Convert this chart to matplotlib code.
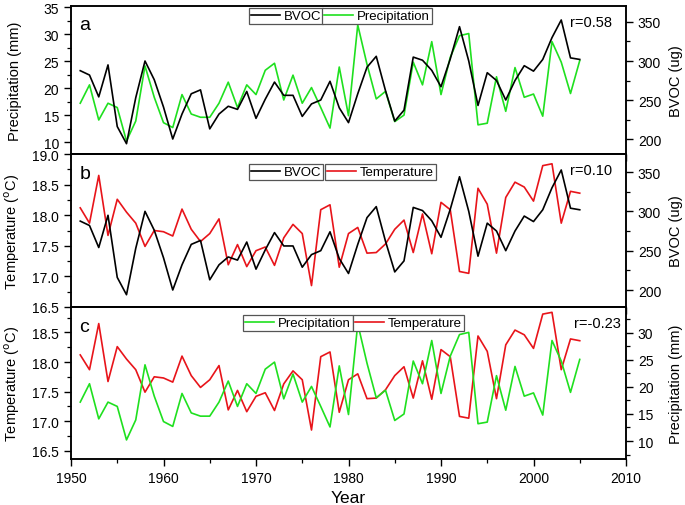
import matplotlib
matplotlib.use('Agg')
import matplotlib.pyplot as plt
from matplotlib.ticker import MultipleLocator

plt.rcParams['font.family'] = ['Liberation Sans', 'DejaVu Sans']

# Data (1951-2005)
years = list(range(1951, 2006))

bvoc = [287.6, 282, 254, 295, 216, 194, 253, 300, 276, 241,
        200, 232, 258, 263, 213, 232, 242, 238, 261, 226.5,
        251, 273, 256, 256, 229, 245, 250, 274, 240, 221,
        258, 292, 306, 262, 223, 237, 305, 301, 288, 267,
        302.6, 344, 300, 243, 285, 275, 250, 275, 294, 287,
        302, 330, 352.6, 304, 302]

precipitation = [17.2, 20.6, 14.1, 17.2, 16.4, 10.2, 13.9, 24.1, 18.3, 13.6,
                 12.7, 18.8, 15.2, 14.6, 14.6, 17.2, 21.1, 16.4, 20.6, 18.8,
                 23.3, 24.6, 17.8, 22.4, 17.2, 20.1, 16.4, 12.6, 23.9, 14.9,
                 31.7, 24.4, 18.0, 19.4, 13.8, 15.0, 24.8, 20.6, 28.6, 18.8,
                 25.7, 29.7, 30.1, 13.2, 13.5, 22.1, 15.7, 23.8, 18.3, 18.9,
                 14.8, 28.6, 24.8, 19.0, 25.1]

temperature = [18.12, 17.87, 18.65, 17.67, 18.26, 18.05, 17.87, 17.49, 17.75, 17.73,
               17.66, 18.10, 17.77, 17.57, 17.70, 17.94, 17.19, 17.52, 17.16, 17.42,
               17.48, 17.18, 17.63, 17.85, 17.70, 16.85, 18.09, 18.17, 17.15, 17.70,
               17.80, 17.38, 17.39, 17.53, 17.77, 17.92, 17.39, 18.02, 17.37, 18.21,
               18.09, 17.08, 17.05, 18.44, 18.18, 17.38, 18.29, 18.54, 18.46, 18.23,
               18.81, 18.84, 17.87, 18.39, 18.36]

c_bvoc = 'black'
c_prec = '#1fe01f'
c_temp = '#e8141a'

W, H = 685, 506
fig = plt.figure(figsize=(W / 100, H / 100), dpi=100)

x0, x1 = 71, 626
panels = [(7, 155), (155, 308), (308, 460)]


def make_ax(top, bot):
    return fig.add_axes([x0 / W, 1 - bot / H, (x1 - x0) / W, (bot - top) / H])


def style(ax):
    for s in ax.spines.values():
        s.set_linewidth(1.1)
    ax.tick_params(which='major', length=5, width=1.0, labelsize=10, direction='out')
    ax.tick_params(which='minor', length=3, width=0.9, direction='out')


ax_a = make_ax(*panels[0])
ax_b = make_ax(*panels[1])
ax_c = make_ax(*panels[2])
axes = [ax_a, ax_b, ax_c]

for ax in axes:
    ax.set_xlim(1950, 2010)
    ax.xaxis.set_major_locator(MultipleLocator(10))
    ax.xaxis.set_minor_locator(MultipleLocator(5))
ax_a.tick_params(labelbottom=False)
ax_b.tick_params(labelbottom=False)

lw = 1.2
lab_fs = 10.5

# Panel a: Precipitation (left) and BVOC (right)
pa, = ax_a.plot(years, precipitation, color=c_prec, lw=lw)
ax_a.set_ylim(7.8, 35.2)
ax_a.yaxis.set_major_locator(MultipleLocator(5))
ax_a.yaxis.set_minor_locator(MultipleLocator(2.5))
ax_a.set_ylabel('Precipitation (mm)', fontsize=lab_fs)
ax_a2 = ax_a.twinx()
ba, = ax_a2.plot(years, bvoc, color=c_bvoc, lw=lw)
ax_a2.set_ylim(180.8, 370.5)
ax_a2.yaxis.set_major_locator(MultipleLocator(50))
ax_a2.yaxis.set_minor_locator(MultipleLocator(25))
ax_a2.set_ylabel('BVOC (ug)', fontsize=lab_fs)

# Panel b: Temperature (left) and BVOC (right)
tb, = ax_b.plot(years, temperature, color=c_temp, lw=lw)
ax_b.set_ylim(16.5, 19.0)
ax_b.yaxis.set_major_locator(MultipleLocator(0.5))
ax_b.yaxis.set_minor_locator(MultipleLocator(0.25))
ax_b.yaxis.set_major_formatter('{x:.1f}')
ax_b.set_ylabel('Temperature ($^{\\rm o}$C)', fontsize=lab_fs)
ax_b2 = ax_b.twinx()
bb, = ax_b2.plot(years, bvoc, color=c_bvoc, lw=lw)
ax_b2.set_ylim(178.4, 372.9)
ax_b2.yaxis.set_major_locator(MultipleLocator(50))
ax_b2.yaxis.set_minor_locator(MultipleLocator(25))
ax_b2.set_ylabel('BVOC (ug)', fontsize=lab_fs)

# Panel c: Temperature (left) and Precipitation (right)
tc, = ax_c.plot(years, temperature, color=c_temp, lw=lw)
ax_c.set_ylim(16.36, 18.93)
ax_c.yaxis.set_major_locator(MultipleLocator(0.5))
ax_c.yaxis.set_minor_locator(MultipleLocator(0.25))
ax_c.yaxis.set_major_formatter('{x:.1f}')
ax_c.set_ylabel('Temperature ($^{\\rm o}$C)', fontsize=lab_fs)
ax_c2 = ax_c.twinx()
pc, = ax_c2.plot(years, precipitation, color=c_prec, lw=lw)
ax_c2.set_ylim(6.67, 34.8)
ax_c2.yaxis.set_major_locator(MultipleLocator(5))
ax_c2.yaxis.set_minor_locator(MultipleLocator(2.5))
ax_c2.set_ylabel('Precipitation (mm)', fontsize=lab_fs)
ax_c.set_xlabel('Year', fontsize=12.5)

for ax in axes + [ax_a2, ax_b2, ax_c2]:
    style(ax)

for ax in axes:
    ax.yaxis.set_label_coords(-0.089, 0.5)
for ax in [ax_a2, ax_b2, ax_c2]:
    ax.yaxis.set_label_coords(1.078, 0.5)

# Panel letters and correlation text
for ax, letter in zip(axes, ['a', 'b', 'c']):
    ax.text(0.015, 0.93, letter, transform=ax.transAxes, fontsize=14, va='top', ha='left')
ax_a.text(0.975, 0.94, 'r=0.58', transform=ax_a.transAxes, fontsize=10.5, va='top', ha='right')
ax_b.text(0.975, 0.94, 'r=0.10', transform=ax_b.transAxes, fontsize=10.5, va='top', ha='right')
ax_c.text(0.99, 0.94, 'r=-0.23', transform=ax_c.transAxes, fontsize=10.5, va='top', ha='right')


# Separate boxed legends like the original
def box_legend(handle, label, x, y):
    leg = fig.legend(handles=[handle], labels=[label], loc='upper left',
                     bbox_to_anchor=(x / W, 1 - y / H), borderaxespad=0,
                     fontsize=9.5, frameon=True, fancybox=False, framealpha=1,
                     edgecolor='#555555', borderpad=0.15, handlelength=2.2,
                     handletextpad=0.3)
    leg.get_frame().set_linewidth(0.9)
    return leg


box_legend(ba, 'BVOC', 249, 9)
box_legend(pa, 'Precipitation', 322, 9)
box_legend(bb, 'BVOC', 249, 165)
box_legend(tb, 'Temperature', 325, 165)
box_legend(pc, 'Precipitation', 243, 316)
box_legend(tc, 'Temperature', 353, 316)

fig.savefig('out.png', dpi=100)
